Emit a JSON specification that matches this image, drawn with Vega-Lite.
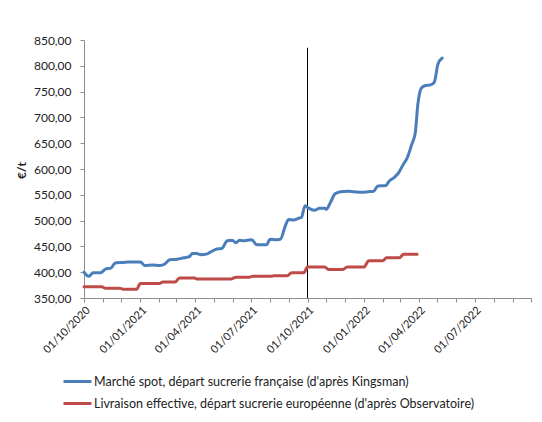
{
  "$schema": "https://vega.github.io/schema/vega-lite/v6.json",
  "autosize": "none",
  "width": 447,
  "height": 258,
  "padding": {"left": 84, "top": 40, "right": 11, "bottom": 124},
  "background": "white",
  "config": {
    "view": {"stroke": null},
    "font": "Lato",
    "axis": {"labelFont": "Lato", "titleFont": "Lato", "labelColor": "#222222", "titleColor": "#222222", "domainColor": "#8c8c8c", "tickColor": "#8c8c8c", "grid": false, "labelOverlap": false}
  },
  "datasets": {
    "prices": [
      {"series": "Marché spot, départ sucrerie française (d'après Kingsman)", "date": "2020-10-01", "value": 400},
      {"series": "Marché spot, départ sucrerie française (d'après Kingsman)", "date": "2020-10-09", "value": 392},
      {"series": "Marché spot, départ sucrerie française (d'après Kingsman)", "date": "2020-10-16", "value": 399},
      {"series": "Marché spot, départ sucrerie française (d'après Kingsman)", "date": "2020-10-28", "value": 399},
      {"series": "Marché spot, départ sucrerie française (d'après Kingsman)", "date": "2020-11-05", "value": 406},
      {"series": "Marché spot, départ sucrerie française (d'après Kingsman)", "date": "2020-11-14", "value": 408},
      {"series": "Marché spot, départ sucrerie française (d'après Kingsman)", "date": "2020-11-21", "value": 418},
      {"series": "Marché spot, départ sucrerie française (d'après Kingsman)", "date": "2020-12-04", "value": 419},
      {"series": "Marché spot, départ sucrerie française (d'après Kingsman)", "date": "2020-12-12", "value": 420},
      {"series": "Marché spot, départ sucrerie française (d'après Kingsman)", "date": "2021-01-01", "value": 420},
      {"series": "Marché spot, départ sucrerie française (d'après Kingsman)", "date": "2021-01-08", "value": 413},
      {"series": "Marché spot, départ sucrerie française (d'après Kingsman)", "date": "2021-01-21", "value": 414},
      {"series": "Marché spot, départ sucrerie française (d'après Kingsman)", "date": "2021-02-02", "value": 413},
      {"series": "Marché spot, départ sucrerie française (d'après Kingsman)", "date": "2021-02-10", "value": 416},
      {"series": "Marché spot, départ sucrerie française (d'après Kingsman)", "date": "2021-02-18", "value": 424},
      {"series": "Marché spot, départ sucrerie française (d'après Kingsman)", "date": "2021-03-02", "value": 425},
      {"series": "Marché spot, départ sucrerie française (d'après Kingsman)", "date": "2021-03-13", "value": 428},
      {"series": "Marché spot, départ sucrerie française (d'après Kingsman)", "date": "2021-03-22", "value": 430},
      {"series": "Marché spot, départ sucrerie française (d'après Kingsman)", "date": "2021-03-27", "value": 436},
      {"series": "Marché spot, départ sucrerie française (d'après Kingsman)", "date": "2021-04-03", "value": 436},
      {"series": "Marché spot, départ sucrerie française (d'après Kingsman)", "date": "2021-04-10", "value": 434},
      {"series": "Marché spot, départ sucrerie française (d'après Kingsman)", "date": "2021-04-19", "value": 435},
      {"series": "Marché spot, départ sucrerie française (d'après Kingsman)", "date": "2021-04-27", "value": 440},
      {"series": "Marché spot, départ sucrerie française (d'après Kingsman)", "date": "2021-05-06", "value": 445},
      {"series": "Marché spot, départ sucrerie française (d'après Kingsman)", "date": "2021-05-14", "value": 446},
      {"series": "Marché spot, départ sucrerie française (d'après Kingsman)", "date": "2021-05-23", "value": 461},
      {"series": "Marché spot, départ sucrerie française (d'après Kingsman)", "date": "2021-05-31", "value": 462},
      {"series": "Marché spot, départ sucrerie française (d'après Kingsman)", "date": "2021-06-06", "value": 457},
      {"series": "Marché spot, départ sucrerie française (d'après Kingsman)", "date": "2021-06-12", "value": 462},
      {"series": "Marché spot, départ sucrerie française (d'après Kingsman)", "date": "2021-06-18", "value": 461},
      {"series": "Marché spot, départ sucrerie française (d'après Kingsman)", "date": "2021-06-25", "value": 462},
      {"series": "Marché spot, départ sucrerie française (d'après Kingsman)", "date": "2021-07-02", "value": 463},
      {"series": "Marché spot, départ sucrerie française (d'après Kingsman)", "date": "2021-07-10", "value": 453},
      {"series": "Marché spot, départ sucrerie française (d'après Kingsman)", "date": "2021-07-19", "value": 453},
      {"series": "Marché spot, départ sucrerie française (d'après Kingsman)", "date": "2021-07-26", "value": 453},
      {"series": "Marché spot, départ sucrerie française (d'après Kingsman)", "date": "2021-08-01", "value": 464},
      {"series": "Marché spot, départ sucrerie française (d'après Kingsman)", "date": "2021-08-13", "value": 463},
      {"series": "Marché spot, départ sucrerie française (d'après Kingsman)", "date": "2021-08-18", "value": 464},
      {"series": "Marché spot, départ sucrerie française (d'après Kingsman)", "date": "2021-08-25", "value": 487},
      {"series": "Marché spot, départ sucrerie française (d'après Kingsman)", "date": "2021-08-31", "value": 502},
      {"series": "Marché spot, départ sucrerie française (d'après Kingsman)", "date": "2021-09-08", "value": 501},
      {"series": "Marché spot, départ sucrerie française (d'après Kingsman)", "date": "2021-09-18", "value": 505},
      {"series": "Marché spot, départ sucrerie française (d'après Kingsman)", "date": "2021-09-21", "value": 506},
      {"series": "Marché spot, départ sucrerie française (d'après Kingsman)", "date": "2021-09-27", "value": 529},
      {"series": "Marché spot, départ sucrerie française (d'après Kingsman)", "date": "2021-10-02", "value": 525},
      {"series": "Marché spot, départ sucrerie française (d'après Kingsman)", "date": "2021-10-12", "value": 520},
      {"series": "Marché spot, départ sucrerie française (d'après Kingsman)", "date": "2021-10-21", "value": 524},
      {"series": "Marché spot, départ sucrerie française (d'après Kingsman)", "date": "2021-10-29", "value": 524},
      {"series": "Marché spot, départ sucrerie française (d'après Kingsman)", "date": "2021-11-01", "value": 522},
      {"series": "Marché spot, départ sucrerie française (d'après Kingsman)", "date": "2021-11-07", "value": 534},
      {"series": "Marché spot, départ sucrerie française (d'après Kingsman)", "date": "2021-11-15", "value": 552},
      {"series": "Marché spot, départ sucrerie française (d'après Kingsman)", "date": "2021-11-24", "value": 556},
      {"series": "Marché spot, départ sucrerie française (d'après Kingsman)", "date": "2021-12-05", "value": 557},
      {"series": "Marché spot, départ sucrerie française (d'après Kingsman)", "date": "2021-12-16", "value": 556},
      {"series": "Marché spot, départ sucrerie française (d'après Kingsman)", "date": "2021-12-28", "value": 555},
      {"series": "Marché spot, départ sucrerie française (d'après Kingsman)", "date": "2022-01-08", "value": 556},
      {"series": "Marché spot, départ sucrerie française (d'après Kingsman)", "date": "2022-01-17", "value": 557},
      {"series": "Marché spot, départ sucrerie française (d'après Kingsman)", "date": "2022-01-24", "value": 567},
      {"series": "Marché spot, départ sucrerie française (d'après Kingsman)", "date": "2022-02-06", "value": 568},
      {"series": "Marché spot, départ sucrerie française (d'après Kingsman)", "date": "2022-02-11", "value": 576},
      {"series": "Marché spot, départ sucrerie française (d'après Kingsman)", "date": "2022-02-20", "value": 584},
      {"series": "Marché spot, départ sucrerie française (d'après Kingsman)", "date": "2022-02-27", "value": 593},
      {"series": "Marché spot, départ sucrerie française (d'après Kingsman)", "date": "2022-03-06", "value": 608},
      {"series": "Marché spot, départ sucrerie française (d'après Kingsman)", "date": "2022-03-13", "value": 622},
      {"series": "Marché spot, départ sucrerie française (d'après Kingsman)", "date": "2022-03-20", "value": 647},
      {"series": "Marché spot, départ sucrerie française (d'après Kingsman)", "date": "2022-03-26", "value": 670},
      {"series": "Marché spot, départ sucrerie française (d'après Kingsman)", "date": "2022-03-30", "value": 723},
      {"series": "Marché spot, départ sucrerie française (d'après Kingsman)", "date": "2022-04-05", "value": 757},
      {"series": "Marché spot, départ sucrerie française (d'après Kingsman)", "date": "2022-04-12", "value": 762},
      {"series": "Marché spot, départ sucrerie française (d'après Kingsman)", "date": "2022-04-20", "value": 763},
      {"series": "Marché spot, départ sucrerie française (d'après Kingsman)", "date": "2022-04-26", "value": 768},
      {"series": "Marché spot, départ sucrerie française (d'après Kingsman)", "date": "2022-05-02", "value": 803},
      {"series": "Marché spot, départ sucrerie française (d'après Kingsman)", "date": "2022-05-09", "value": 815},
      {"series": "Livraison effective, départ sucrerie européenne (d'après Observatoire)", "date": "2020-10-01", "value": 372},
      {"series": "Livraison effective, départ sucrerie européenne (d'après Observatoire)", "date": "2020-10-30", "value": 372},
      {"series": "Livraison effective, départ sucrerie européenne (d'après Observatoire)", "date": "2020-11-05", "value": 369},
      {"series": "Livraison effective, départ sucrerie européenne (d'après Observatoire)", "date": "2020-11-28", "value": 369},
      {"series": "Livraison effective, départ sucrerie européenne (d'après Observatoire)", "date": "2020-12-04", "value": 367},
      {"series": "Livraison effective, départ sucrerie européenne (d'après Observatoire)", "date": "2020-12-26", "value": 367},
      {"series": "Livraison effective, départ sucrerie européenne (d'après Observatoire)", "date": "2021-01-01", "value": 378},
      {"series": "Livraison effective, départ sucrerie européenne (d'après Observatoire)", "date": "2021-02-01", "value": 378},
      {"series": "Livraison effective, départ sucrerie européenne (d'après Observatoire)", "date": "2021-02-07", "value": 381},
      {"series": "Livraison effective, départ sucrerie européenne (d'après Observatoire)", "date": "2021-02-27", "value": 381},
      {"series": "Livraison effective, départ sucrerie européenne (d'après Observatoire)", "date": "2021-03-06", "value": 389},
      {"series": "Livraison effective, départ sucrerie européenne (d'après Observatoire)", "date": "2021-03-30", "value": 389},
      {"series": "Livraison effective, départ sucrerie européenne (d'après Observatoire)", "date": "2021-04-03", "value": 387},
      {"series": "Livraison effective, départ sucrerie européenne (d'après Observatoire)", "date": "2021-05-29", "value": 387},
      {"series": "Livraison effective, départ sucrerie européenne (d'après Observatoire)", "date": "2021-06-06", "value": 390},
      {"series": "Livraison effective, départ sucrerie européenne (d'après Observatoire)", "date": "2021-06-26", "value": 390},
      {"series": "Livraison effective, départ sucrerie européenne (d'après Observatoire)", "date": "2021-07-04", "value": 392},
      {"series": "Livraison effective, départ sucrerie européenne (d'après Observatoire)", "date": "2021-08-02", "value": 392},
      {"series": "Livraison effective, départ sucrerie européenne (d'après Observatoire)", "date": "2021-08-08", "value": 393},
      {"series": "Livraison effective, départ sucrerie européenne (d'après Observatoire)", "date": "2021-08-29", "value": 393},
      {"series": "Livraison effective, départ sucrerie européenne (d'après Observatoire)", "date": "2021-09-05", "value": 399},
      {"series": "Livraison effective, départ sucrerie européenne (d'après Observatoire)", "date": "2021-09-25", "value": 399},
      {"series": "Livraison effective, départ sucrerie européenne (d'après Observatoire)", "date": "2021-10-01", "value": 410},
      {"series": "Livraison effective, départ sucrerie européenne (d'après Observatoire)", "date": "2021-10-29", "value": 410},
      {"series": "Livraison effective, départ sucrerie européenne (d'après Observatoire)", "date": "2021-11-05", "value": 405},
      {"series": "Livraison effective, départ sucrerie européenne (d'après Observatoire)", "date": "2021-11-27", "value": 405},
      {"series": "Livraison effective, départ sucrerie européenne (d'après Observatoire)", "date": "2021-12-05", "value": 410},
      {"series": "Livraison effective, départ sucrerie européenne (d'après Observatoire)", "date": "2022-01-01", "value": 410},
      {"series": "Livraison effective, départ sucrerie européenne (d'après Observatoire)", "date": "2022-01-09", "value": 422},
      {"series": "Livraison effective, départ sucrerie européenne (d'après Observatoire)", "date": "2022-02-01", "value": 422},
      {"series": "Livraison effective, départ sucrerie européenne (d'après Observatoire)", "date": "2022-02-07", "value": 428},
      {"series": "Livraison effective, départ sucrerie européenne (d'après Observatoire)", "date": "2022-02-28", "value": 428},
      {"series": "Livraison effective, départ sucrerie européenne (d'après Observatoire)", "date": "2022-03-07", "value": 435},
      {"series": "Livraison effective, départ sucrerie européenne (d'après Observatoire)", "date": "2022-03-29", "value": 435}
    ],
    "marker": [{"date": "2021-10-01", "value": 350, "hi": 835}]
  },
  "encoding": {
    "x": {
      "field": "date", "type": "temporal",
      "scale": {"domain": [{"year": 2020, "month": 10, "date": 1}, {"year": 2022, "month": 10, "date": 1}]},
      "axis": {
        "title": null,
        "values": [
          {"year": 2020, "month": 10, "date": 1}, {"year": 2020, "month": 11, "date": 1}, {"year": 2020, "month": 12, "date": 1},
          {"year": 2021, "month": 1, "date": 1}, {"year": 2021, "month": 2, "date": 1}, {"year": 2021, "month": 3, "date": 1},
          {"year": 2021, "month": 4, "date": 1}, {"year": 2021, "month": 5, "date": 1}, {"year": 2021, "month": 6, "date": 1},
          {"year": 2021, "month": 7, "date": 1}, {"year": 2021, "month": 8, "date": 1}, {"year": 2021, "month": 9, "date": 1},
          {"year": 2021, "month": 10, "date": 1}, {"year": 2021, "month": 11, "date": 1}, {"year": 2021, "month": 12, "date": 1},
          {"year": 2022, "month": 1, "date": 1}, {"year": 2022, "month": 2, "date": 1}, {"year": 2022, "month": 3, "date": 1},
          {"year": 2022, "month": 4, "date": 1}, {"year": 2022, "month": 5, "date": 1}, {"year": 2022, "month": 6, "date": 1},
          {"year": 2022, "month": 7, "date": 1}, {"year": 2022, "month": 8, "date": 1}, {"year": 2022, "month": 9, "date": 1},
          {"year": 2022, "month": 10, "date": 1}
        ],
        "labelExpr": "(month(datum.value) % 3 == 0) && (year(datum.value) * 12 + month(datum.value) < 2022 * 12 + 9) ? timeFormat(datum.value, '%d/%m/%Y') : ''",
        "labelAngle": -45,
        "labelFontSize": 11,
        "labelOverlap": false,
        "labelPadding": 2,
        "tickSize": 4,
        "labelBound": false,
        "labelFlush": false
      }
    },
    "y": {
      "field": "value", "type": "quantitative",
      "scale": {"domain": [350, 850], "nice": false, "zero": false},
      "axis": {
        "title": "€/t",
        "titleFontSize": 12,
        "titleFontWeight": "bold",
        "titleX": -63,
        "titleY": 130,
        "titleAngle": -90,
        "titleAlign": "center",
        "titleBaseline": "middle",
        "values": [350, 400, 450, 500, 550, 600, 650, 700, 750, 800, 850],
        "labelExpr": "replace(format(datum.value, '.2f'), '.', ',')",
        "labelFontSize": 12,
        "labelOverlap": false,
        "labelPadding": 9,
        "tickSize": 4
      }
    }
  },
  "layer": [
    {
      "data": {"name": "marker", "format": {"parse": {"date": "date:'%Y-%m-%d'"}}},
      "mark": {"type": "rule", "color": "#000000", "strokeWidth": 1},
      "encoding": {
        "y2": {"field": "hi"}
      }
    },
    {
      "data": {"name": "prices", "format": {"parse": {"date": "date:'%Y-%m-%d'"}}},
      "mark": {"type": "line", "strokeWidth": 3, "interpolate": "monotone", "strokeCap": "round", "strokeJoin": "round"},
      "encoding": {
        "color": {
          "field": "series", "type": "nominal",
          "scale": {
            "domain": ["Marché spot, départ sucrerie française (d'après Kingsman)", "Livraison effective, départ sucrerie européenne (d'après Observatoire)"],
            "range": ["#4a7ebb", "#be4b48"]
          },
          "legend": {
            "title": null,
            "orient": "none",
            "legendX": -22,
            "legendY": 326,
            "direction": "vertical",
            "symbolType": "stroke",
            "symbolSize": 784,
            "symbolStrokeWidth": 3,
            "labelFontSize": 12.5,
            "labelFont": "Lato",
            "labelColor": "#222222",
            "labelOffset": 1,
            "rowPadding": 0,
            "labelLimit": 500
          }
        }
      }
    }
  ]
}
